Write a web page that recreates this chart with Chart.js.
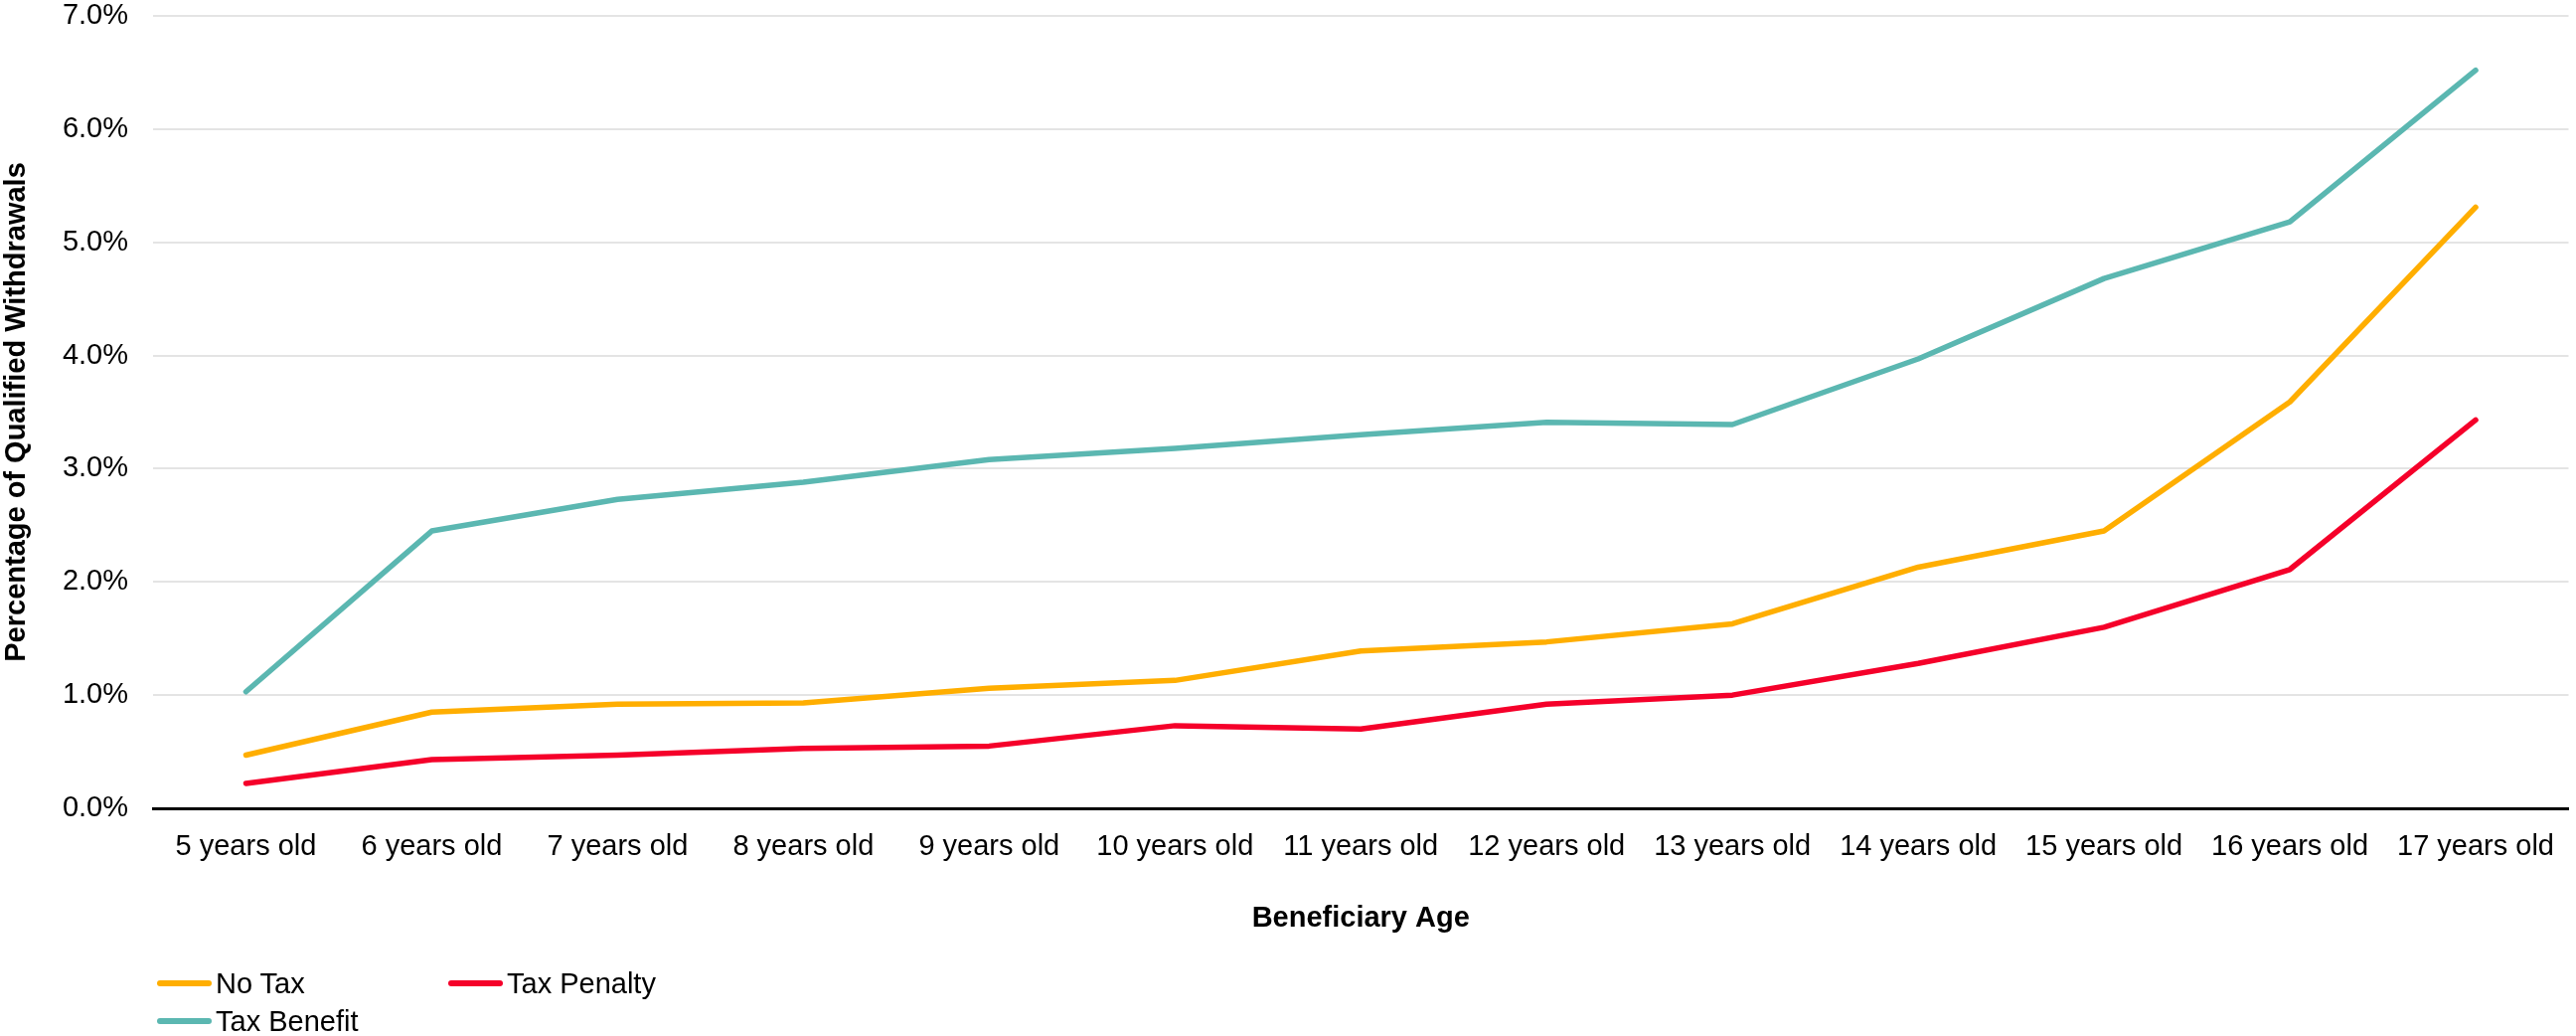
<!DOCTYPE html>
<html>
<head>
<meta charset="utf-8">
<script src="https://cdn.jsdelivr.net/npm/chart.js@4/dist/chart.umd.min.js"></script>
<style>
  html, body { margin: 0; padding: 0; background: #fff; }
  #wrap { position: relative; width: 2592px; height: 1042px; }
  #c { position: absolute; left: 0; top: 0; }
  .lg { position: absolute; display: flex; align-items: center; font-family: "Liberation Sans", Arial, sans-serif; font-size: 29px; color: #000; white-space: nowrap; }
  .lg .sw { width: 55px; height: 6px; border-radius: 3px; margin-right: 4px; }
</style>
</head>
<body>
<div id="wrap">
  <canvas id="c" width="2592" height="1042"></canvas>
  <div id="legend"></div>
</div>
<script>
const categories = ["5 years old","6 years old","7 years old","8 years old","9 years old","10 years old","11 years old","12 years old","13 years old","14 years old","15 years old","16 years old","17 years old"];
const seriesNames = ["No Tax", "Tax Penalty", "Tax Benefit"];
const noTax      = [0.47, 0.85, 0.92, 0.93, 1.06, 1.13, 1.39, 1.47, 1.63, 2.13, 2.45, 3.59, 5.31];
const taxPenalty = [0.22, 0.43, 0.47, 0.53, 0.55, 0.73, 0.70, 0.92, 1.00, 1.28, 1.60, 2.11, 3.43];
const taxBenefit = [1.03, 2.45, 2.73, 2.88, 3.08, 3.18, 3.30, 3.41, 3.39, 3.97, 4.68, 5.18, 6.52];
const yTicks = [0, 1, 2, 3, 4, 5, 6, 7];
const xTitle = "Beneficiary Age";
const yTitle = "Percentage of Qualified Withdrawals";

const colors = ["#FFAE00", "#F5002A", "#5BB7B1"];
const FONT = "'Liberation Sans', Arial, sans-serif";

Chart.defaults.font.family = FONT;
Chart.defaults.font.size = 29;
Chart.defaults.color = "#000";

const seriesData = [noTax, taxPenalty, taxBenefit];
const datasets = seriesNames.map((n, i) => ({
  label: n,
  data: seriesData[i],
  borderColor: colors[i],
  backgroundColor: colors[i],
  borderWidth: 5.5,
  pointRadius: 0,
  pointHoverRadius: 0,
  tension: 0,
  borderCapStyle: "round",
  borderJoinStyle: "round",
  fill: false
}));

const chart = new Chart(document.getElementById("c"), {
  type: "line",
  data: { labels: categories, datasets: datasets },
  options: {
    responsive: false,
    animation: false,
    devicePixelRatio: 1,
    layout: { padding: { left: 0, right: 0, top: 16, bottom: 101 } },
    plugins: { legend: { display: false }, tooltip: { enabled: false } },
    scales: {
      x: {
        type: "category",
        offset: true,
        grid: { display: false, drawTicks: false },
        border: { display: true, color: "#000", width: 3 },
        ticks: { padding: 22, font: { size: 29 }, color: "#000", maxRotation: 0, autoSkip: false },
        title: { display: true, text: xTitle, font: { size: 29, weight: "bold" }, color: "#000", padding: { top: 0, bottom: 0 } },
        afterFit: (s) => { s.height = 128; }
      },
      y: {
        min: 0, max: 7,
        afterBuildTicks: (s) => { s.ticks = yTicks.map(v => ({ value: v })); },
        grid: { color: "#E4E4E4", lineWidth: 2, drawTicks: false },
        border: { display: false },
        ticks: { padding: 25, font: { size: 29 }, color: "#000", callback: (v) => Number(v).toFixed(1) + "%" },
        title: { display: true, text: yTitle, font: { size: 29, weight: "bold" }, color: "#000", padding: { top: 0, bottom: 0 } },
        afterFit: (s) => { s.width = 154; s.paddingTop = 0; s.paddingBottom = 0; }
      }
    }
  }
});

// HTML legend built from the chart's datasets
const lg = document.getElementById("legend");
const pos = [[158, 989], [451, 989], [158, 1027]];
chart.data.datasets.forEach((ds, i) => {
  const d = document.createElement("div");
  d.className = "lg";
  d.style.left = pos[i][0] + "px";
  d.style.top = (pos[i][1] - 17) + "px";
  d.style.height = "34px";
  const sw = document.createElement("span");
  sw.className = "sw";
  sw.style.background = ds.borderColor;
  const t = document.createElement("span");
  t.textContent = ds.label;
  d.appendChild(sw); d.appendChild(t);
  lg.appendChild(d);
});
</script>
</body>
</html>
